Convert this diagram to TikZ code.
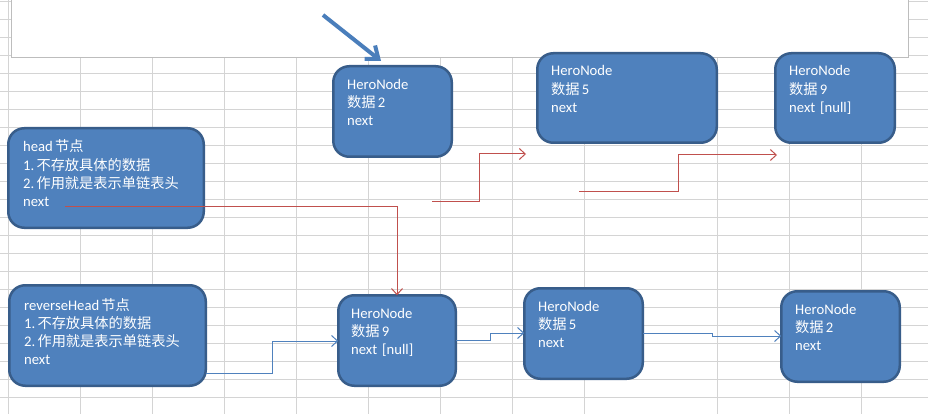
\documentclass[tikz,border=0pt]{standalone}
\usepackage{fontspec}
\setmainfont{Carlito}
\newfontfamily\cjk{Noto Sans CJK SC}[Scale=0.97]
\usetikzlibrary{arrows.meta,calc}
\definecolor{nodefill}{HTML}{4F81BD}
\definecolor{nodeedge}{HTML}{385D8A}
\definecolor{gridc}{HTML}{D4D4D4}
\definecolor{redline}{HTML}{C0504D}
\definecolor{blueline}{HTML}{4F81BD}
\definecolor{bigblue}{HTML}{4A7EBB}
\definecolor{framec}{HTML}{BDBDBD}
\newcommand\herobox[5]{%
  \node[hbox, minimum width={#4-#2-2.5}, minimum height={#5-#3-2.5}]
    (#1) at ({(#2+#4)/2},{(#3+#5)/2}) {};}
\newcommand\cj[1]{{\cjk #1}}
\newcommand\gp{\kern2.2pt}
\begin{document}
\begin{tikzpicture}[x=1pt,y=-1pt,
  hbox/.style={draw=nodeedge, fill=nodefill, line width=2.5pt,
    rounded corners=16pt, inner sep=0pt, outer sep=0pt},
  htext/.style={text=white, font=\fontsize{14.67pt}{18.3pt}\selectfont,
    align=left, text width=185pt, inner sep=0pt, anchor=base west},
  gridline/.style={draw=gridc, line width=1pt},
  redarrow/.style={draw=redline, line width=1pt,
    -{Straight Barb[length=6pt,width=11pt]}},
  bluearrow/.style={draw=blueline, line width=1pt,
    -{Straight Barb[length=6pt,width=11pt]}},
  bigarrow/.style={draw=bigblue, line width=4pt,
    -{Straight Barb[length=11pt,width=17pt]}}
]
\useasboundingbox (0,0) rectangle (928,414);
\fill[white] (0,0) rectangle (928,414);
% spreadsheet grid
\foreach \x in {8,80,152,224,296,368,440,512,584,717,789,861}
  \draw[gridline] (\x,0) -- (\x,414);
\foreach \k in {0,...,22}
  \draw[gridline] (0,{1.3+18*\k}) -- (928,{1.3+18*\k});
% white frame at the top
\fill[white] (11,-3) rectangle (908,57.3);
\draw[framec, line width=1pt] (11,-3) -- (11,57.3) -- (908,57.3) -- (908,-3);

% boxes
\herobox{head}{7}{127}{205}{229}
\herobox{htwo}{332}{65}{453}{158}
\herobox{hfive}{536}{52}{718}{144}
\herobox{hnine}{774}{52}{896}{144}
\herobox{rev}{8}{284}{207}{387}
\herobox{bnine}{337}{294}{457}{387}
\herobox{bfive}{523}{287}{644}{380}
\herobox{btwo}{780}{290}{901}{383}

% texts
\node[htext] (headtxt) at (23,152) {head\gp\cj{节点}\\1.\gp\cj{不存放具体的数据}\\2.\gp\cj{作用就是表示单链表头}\\next};
\node[htext] (htwotxt) at (347,89.3) {HeroNode\\\cj{数据}\gp 2\\next};
\node[htext] (hfivetxt) at (551,76) {HeroNode\\\cj{数据}\gp 5\\next};
\node[htext] (hninetxt) at (789,76) {HeroNode\\\cj{数据}\gp 9\\next [null]};
\node[htext] (revtxt) at (24,310) {reverseHead\gp\cj{节点}\\1.\gp\cj{不存放具体的数据}\\2.\gp\cj{作用就是表示单链表头}\\next};
\node[htext] (bninetxt) at (351,318) {HeroNode\\\cj{数据}\gp 9\\next [null]};
\node[htext] (bfivetxt) at (538,311) {HeroNode\\\cj{数据}\gp 5\\next};
\node[htext] (btwotxt) at (795,314) {HeroNode\\\cj{数据}\gp 2\\next};

% free ends
\coordinate (a0) at (65,206);
\coordinate (b0) at (432,201);
\coordinate (b1) at (526,154);
\coordinate (c0) at (579,191);
\coordinate (c1) at (777,155);
\coordinate (g0) at (323,15);
\coordinate (g1) at (381,61);

% red connectors
\draw[redarrow] (a0) -| (bnine.north);
\draw[redarrow] (b0) -- ++(47,0) |- (b1);
\draw[redarrow] (c0) -- ++(99,0) |- (c1);

% blue connectors
\draw[bluearrow] (rev.east |- 0,373) -- (272,373) |- (bnine.west |- 0,341);
\draw[bluearrow] (bnine.east |- 0,340) -- (490,340) |- (bfive.west |- 0,333);
\draw[bluearrow] (bfive.east |- 0,333) -- (712,333) |- (btwo.west |- 0,336);

% big arrow
\draw[bigarrow] (g0) -- (g1);
\end{tikzpicture}
\end{document}
